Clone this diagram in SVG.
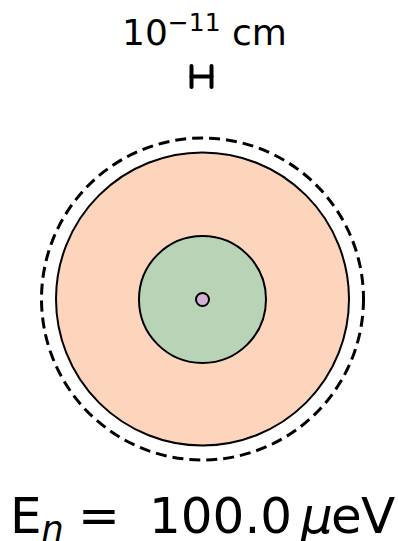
<svg xmlns="http://www.w3.org/2000/svg" width="398" height="541" viewBox="0 0 398 541">
<style>
.t{font-family:"DejaVu Sans",sans-serif;fill:#000}
.c{stroke:#000;stroke-width:2}
.bar{stroke:#000;stroke-width:4;stroke-linecap:round;fill:none}
</style>
<rect width="398" height="541" fill="#fff"/>
<g id="label-top">
<text class="t" x="122" y="45" font-size="36">10<tspan font-size="25" dy="-14">−11</tspan><tspan dy="14"> cm</tspan></text>
</g>
<g id="scalebar">
<line class="bar" x1="191.5" y1="66" x2="191.5" y2="87"/>
<line class="bar" x1="211.5" y1="66" x2="211.5" y2="87"/>
<line class="bar" x1="191.5" y1="76.5" x2="211.5" y2="76.5"/>
</g>
<g id="outer-dashed">
<circle cx="202.5" cy="299" r="161" fill="none" stroke="#000" stroke-width="3" stroke-dasharray="11,6"/>
</g>
<g id="orange">
<circle class="c" cx="202.5" cy="299" r="146.5" fill="#fdd4bc"/>
</g>
<g id="green">
<circle class="c" cx="202.5" cy="299.5" r="63.5" fill="#b9d3b6"/>
</g>
<g id="core">
<circle class="c" cx="202.5" cy="299.5" r="6.5" fill="#d5afd5"/>
</g>
<g id="label-bottom" class="t" font-size="50">
<text class="t" x="10" y="533">E<tspan font-size="35" font-style="italic" dy="8">n</tspan></text>
<text class="t" x="78" y="533">=</text>
<text class="t" x="149" y="533">100.0</text>
<text class="t" x="301" y="533" font-style="italic">μ</text>
<text class="t" x="331" y="533">e</text>
<text class="t" x="361" y="533">V</text>
</g>
</svg>
